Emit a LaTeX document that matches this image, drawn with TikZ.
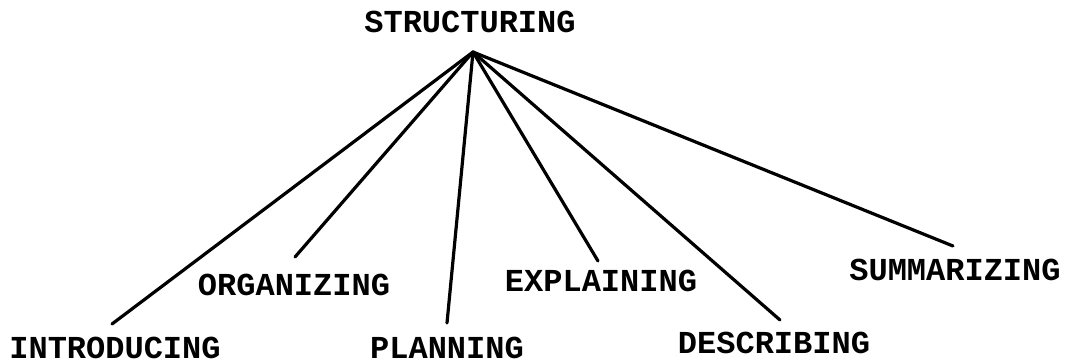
\documentclass[tikz,border=0pt]{standalone}
\usepackage{fontspec}
\newfontfamily\typewriter{Liberation Mono}
\begin{document}
\begin{tikzpicture}[x=1pt,y=-1pt,
  lbl/.style={inner sep=0pt, font=\typewriter\bfseries\fontsize{32}{32}\selectfont},
  branch/.style={line width=3.2pt, line cap=round}]
\useasboundingbox (0,0) rectangle (1066,364);
% root and the point where all branches meet
\node[lbl] (root) at (470,22) {STRUCTURING};
\coordinate (hub) at (473,52);
% leaf labels
\node[lbl] (intro) at (115,348) {INTRODUCING};
\node[lbl] (org)   at (294,285) {ORGANIZING};
\node[lbl] (plan)  at (447,348) {PLANNING};
\node[lbl] (expl)  at (601,281) {EXPLAINING};
\node[lbl] (desc)  at (774,343) {DESCRIBING};
\node[lbl] (summ)  at (955,270) {SUMMARIZING};
% free ends of the branches, just above each label
\coordinate (introEnd) at (112,324);
\coordinate (orgEnd)   at (295,257);
\coordinate (planEnd)  at (447,323);
\coordinate (explEnd)  at (598,261);
\coordinate (descEnd)  at (780,320);
\coordinate (summEnd)  at (953,246);
% branches
\foreach \e in {introEnd,orgEnd,planEnd,explEnd,descEnd,summEnd}
  \draw[branch] (hub) -- (\e);
\end{tikzpicture}
\end{document}
